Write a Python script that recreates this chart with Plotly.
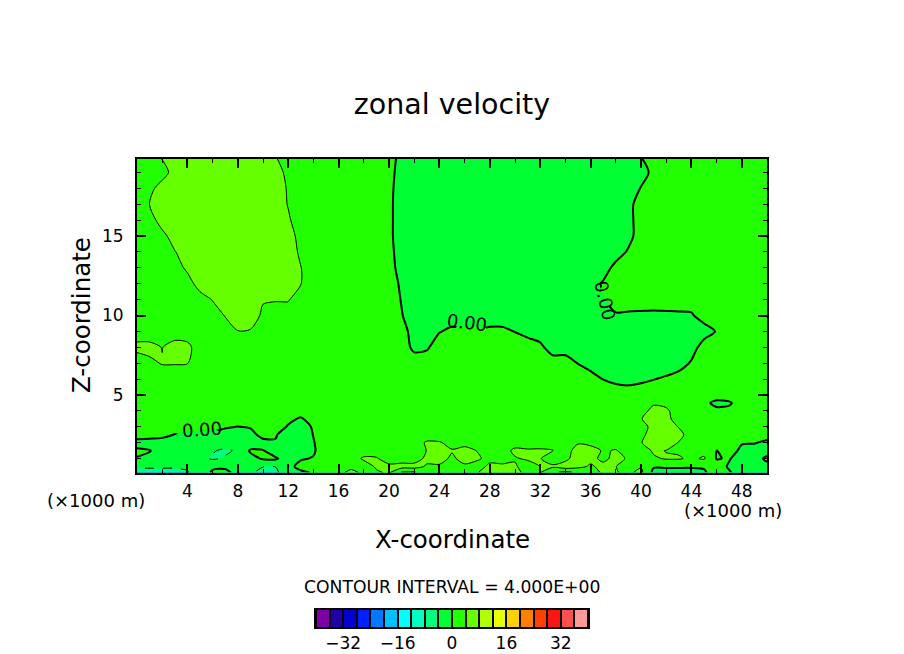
import plotly.graph_objects as go

x_km = list(range(0, 51))
z_km = [0.125, 0.5, 1, 1.5, 2, 2.5, 3, 3.5, 4, 4.5, 5, 6, 7, 8, 9, 10,
        11, 12, 13, 14, 15, 16, 17, 18, 19, 19.875]

# zonal velocity, bottom row first (each row: x = 0..50)
u = [
    [-4.5, -4.5, -4.5, -4.5, -4.2, -2, .5, .8, -1, -3.5,
     -5, -5, -1, -.6, .3, 2, 2, 6, 2.5, 3.5,
     4.5, -.2, -.2, 3, 3, 2.5, 2, 3.8, 6, 6,
     6, 2, 4.1, .5, -.5, .5, 2.5, 4.5, 4.2, 3.3,
     5, -1, -1, -1, -1, -.5, 2, .4, -2, -2, -2],
    [-3.8, -3.8, -3.8, -3.8, -3.6, -2, -.6, -.6, -2, -2,
     -3.9, -3.9, -1, 1, 2, 2, 2, 2, 2, 4.5,
     5, 5.5, 5.5, 3.5, 3.6, 3.5, 3.5, 2.5, 4.8, 5,
     4.5, 2, 4.1, 4.6, 6, 5, 3.5, 5, 4.1, 2,
     3.7, .3, .3, .3, .3, .4, 2, -.5, -2, -2, -1.5],
    [-.2, -1, -2, -2, -2, -3, -4.4, -3.6, -2, -1,
     .3, .5, -2, -.3, .2, 2, 2, 2, 4.6, 4.4,
     2, 2, 2, 5, 5, 3.5, 5, 4.5, 3, 2,
     3.6, 4.6, 4.2, 2, 3, 6, 5, 3.2, 5, 3.6,
     2, 3.5, 4.3, 4.3, 3.4, 4.4, -.2, .3, -2, -2, 1],
    [.7, .2, -2, -2, -2, -2, -3.7, -4.6, -3.5, .4,
     .2, -2, -2, -2, -.4, 2, 2, 2, 2, 2,
     2, 2, 2, 4.1, 6, 4.2, 5, 3.9, 2, 2,
     5, 4.5, 4.6, 4.2, 2, 6, 6, 3.5, 4.3, 2,
     2, 4.5, 3.9, 3.6, 2, 3, -.1, 2, -1, -2, -2],
    [-1.6, -2, -2, -2, -2, -2, -2, -2, -2, -2,
     -2, -.3, -2, -2, -.2, 2, 2, 2, 2, 2,
     2, 2, 2, 4.5, 4.3, 3, 3, 2, 2, 2,
     2, 2, 2, 2, 2, 3.6, 2.7, 2, 2, 2,
     3.8, 6, 6, 3.8, 2, 2, 2, 2, .3, .3, -1.1],
    [2, 2, 1.3, -.2, -2, -2, -2, -2, -2, -2,
     2, .3, -2, -2, .1, 2, 2, 2, 2, 2,
     2, 2, 2, 2, 2, 2, 2, 2, 2, 2,
     2, 2, 2, 2, 2, 2, 2, 2, 2, 2,
     2.9, 6, 6, 5.3, 2, 2, 2, 2, 2, 2, 2],
    [2, 2, 2, 2, 3, 2, 1.3, .5, -.1, .5,
     2, 2, -.4, -2, .5, 2, 2, 2, 2, 2,
     2, 2, 2, 2, 2, 2, 2, 2, 2, 2,
     2, 2, 2, 2, 2, 2, 2, 2, 2, 2,
     2, 5.6, 6, 3.8, 2, 2, 2, 2, 2, 2, 2],
    [2, 2, 2, 2, 2, 2, 2, 2, 2, 2,
     2, 2, 1, -.5, 2, 2, 2, 2, 2, 2,
     2, 2, 2, 2, 2, 2, 2, 2, 2, 2,
     2, 2, 2, 2, 2, 2, 2, 2, 2, 2,
     3.8, 6, 5.3, 2, 2, 2, 2, 2, 2, 2, 2],
    [2, 2, 2, 2, 2, 2, 2, 2, 2, 2,
     2, 2, 2, 2, 2, 2, 2, 2, 2, 2,
     2, 2, 2, 2, 2, 2, 2, 2, 2, 2,
     2, 2, 2, 2, 2, 2, 2, 2, 2, 2,
     2, 5.6, 4.7, 2, 2, 2, 1, 1, 2, 2, 2],
    [2, 2, 2, 2, 2, 2, 2, 2, 2, 2,
     2, 2, 2, 2, 2, 2, 2, 2, 2, 2,
     2, 2, 2, 2, 2, 2, 2, 2, 2, 2,
     2, 2, 2, 2, 2, 2, 2, 2, 2, 2,
     2, 3.3, 3, 2, 2, 1, -1, -.5, 2, 2, 2],
    [2, 2, 2, 2, 2, 2, 2, 2, 2, 2,
     2, 2, 2, 2, 2, 2, 2, 2, 2, 2,
     2, 2, 2, 2, 2, 2, 2, 2, 2, 2,
     2, 2, 2, 2, 2, 2, 2, 2, 2, 2,
     2, 2, 2, 2, 2, 2, 2, 2, 2, 2, 2],
    [2, 2, 2, 2, 2, 2, 2, 2, 2, 2,
     2, 2, 2, 2, 2, 2, 2, 2, 2, 2,
     2, 2, 2, 2, 2, 2, 2, 2, 2, 2,
     2, 2, 2, 2, 2, 2, 2, -.1, -.9, -1.3,
     -.7, -.1, .5, 2, 2, 2, 2, 2, 2, 2, 2],
    [2, 3.3, 4.2, 4.2, 4.1, 2, 2, 2, 2, 2,
     2, 2, 2, 2, 2, 2, 2, 2, 2, 2,
     2, 2, 2, 2, 2, 2, 2, 2, 2, 2,
     2, 2, 2, 2, 2, -.1, -2, -2, -2, -2,
     -2, -2, -2, -2, .5, 2, 2, 2, 2, 2, 2],
    [5, 5, 3.9, 5.5, 5, 2, 2, 2, 2, 2,
     2, 2, 2, 2, 2, 2, 2, 2, 2, 2,
     2, 2, -.9, -.5, 2, 2, 2, 2, 2, 2,
     2, 2, .9, -2, -2, -2, -2, -2, -2, -2,
     -2, -2, -2, -2, -2, 2, 2, 2, 2, 2, 2],
    [2, 2, 2, 2, 2, 2, 2, 2, 3.9, 3.7,
     2, 2, 2, 2, 2, 2, 2, 2, 2, 2,
     2, 2, -2, -2, -.2, .8, .8, .8, .8, .8,
     -.1, -1.3, -2, -2, -2, -2, -2, -2, -2, -2,
     -2, -2, -2, -2, -2, -2, .3, 2, 2, 2, 2],
    [2, 2, 2, 2, 2, 2, 2, 4.2, 6, 6,
     3.3, 2, 2, 2, 2, 2, 2, 2, 2, 2,
     2, .2, -2, -2, -2, -2, -2, -2, -2, -2,
     -2, -2, -2, -2, -2, -2, -2, -2, -.5, -.7,
     -.8, -.9, -.8, -.7, -.5, 2, 2, 2, 2, 2, 2],
    [2, 2, 2, 2, 2, 2, 4.2, 6, 6, 6,
     4.3, 4.3, 4.3, 2, 2, 2, 2, 2, 2, 2,
     2, -.2, -2, -2, -2, -2, -2, -2, -2, -2,
     -2, -2, -2, -2, -2, -2, -2, -.5, 2, 2,
     2, 2, 2, 2, 2, 2, 2, 2, 2, 2, 2],
    [2, 2, 2, 2, 2, 6, 6, 6, 6, 6,
     6, 6, 6, 4.1, 2, 2, 2, 2, 2, 2,
     2, -.7, -2, -2, -2, -2, -2, -2, -2, -2,
     -2, -2, -2, -2, -2, -2, -2, .5, 2, 2,
     2, 2, 2, 2, 2, 2, 2, 2, 2, 2, 2],
    [2, 2, 2, 2, 4.9, 6, 6, 6, 6, 6,
     6, 6, 6, 4.1, 2, 2, 2, 2, 2, 2,
     2, -2, -2, -2, -2, -2, -2, -2, -2, -2,
     -2, -2, -2, -2, -2, -2, -2, -2, 1.3, 2,
     2, 2, 2, 2, 2, 2, 2, 2, 2, 2, 2],
    [2, 2, 2, 3.8, 6, 6, 6, 6, 6, 6,
     6, 6, 6, 3.3, 2, 2, 2, 2, 2, 2,
     1.3, -2, -2, -2, -2, -2, -2, -2, -2, -2,
     -2, -2, -2, -2, -2, -2, -2, -2, -2, .5,
     2, 2, 2, 2, 2, 2, 2, 2, 2, 2, 2],
    [2, 2, 2.7, 6, 6, 6, 6, 6, 6, 6,
     6, 6, 6, 2.4, 2, 2, 2, 2, 2, 2,
     .9, -2, -2, -2, -2, -2, -2, -2, -2, -2,
     -2, -2, -2, -2, -2, -2, -2, -2, -2, -1.3,
     2, 2, 2, 2, 2, 2, 2, 2, 2, 2, 2],
    [2, 2, 6, 6, 6, 6, 6, 6, 6, 6,
     6, 6, 4.5, 2, 2, 2, 2, 2, 2, 2,
     .9, -2, -2, -2, -2, -2, -2, -2, -2, -2,
     -2, -2, -2, -2, -2, -2, -2, -2, -2, -1.3,
     2, 2, 2, 2, 2, 2, 2, 2, 2, 2, 2],
    [2, 4.1, 6, 6, 6, 6, 6, 6, 6, 6,
     6, 6, 3.8, 2, 2, 2, 2, 2, 2, 2,
     .9, -2, -2, -2, -2, -2, -2, -2, -2, -2,
     -2, -2, -2, -2, -2, -2, -2, -2, -2, -1.3,
     2, 2, 2, 2, 2, 2, 2, 2, 2, 2, 2],
    [2, 2.7, 6, 6, 6, 6, 6, 6, 6, 6,
     6, 6, 3.6, 2, 2, 2, 2, 2, 2, 2,
     1.1, -2, -2, -2, -2, -2, -2, -2, -2, -2,
     -2, -2, -2, -2, -2, -2, -2, -2, -2, -2,
     .2, 2, 2, 2, 2, 2, 2, 2, 2, 2, 2],
    [2, 2, 2, 6, 6, 6, 6, 6, 6, 6,
     6, 6, 2.7, 2, 2, 2, 2, 2, 2, 2,
     1.6, -2, -2, -2, -2, -2, -2, -2, -2, -2,
     -2, -2, -2, -2, -2, -2, -2, -2, -2, -2,
     -2, 1.3, 2, 2, 2, 2, 2, 2, 2, 2, 2],
    [2, 2, 4.2, 6, 6, 6, 6, 6, 6, 6,
     6, 4.3, 2, 2, 2, 2, 2, 2, 2, 2,
     2, -1.6, -2, -2, -2, -2, -2, -2, -2, -2,
     -2, -2, -2, -2, -2, -2, -2, -2, -2, -2,
     -.2, 2, 2, 2, 2, 2, 2, 2, 2, 2, 2],
]

band_colors = ["#8000a8", "#2000a8", "#0000d0", "#0020ff", "#0078ff",
               "#00c0ff", "#00ffff", "#00ffc0", "#00ff80", "#00ff33",
               "#22ff00", "#66ff00", "#b0ff00", "#e8ff00", "#ffd000",
               "#ff8000", "#ff4000", "#ff1414", "#ff5050", "#ff9999"]
band_mid = [-38, -34, -30, -26, -22, -18, -14, -10, -6, -2,
            2, 6, 10, 14, 18, 22, 26, 30, 34, 38]

x_ticks = [4, 8, 12, 16, 20, 24, 28, 32, 36, 40, 44, 48]
z_ticks = [5, 10, 15]
legend_ticks = [-32, -16, 0, 16, 32]
legend_labels = ["\u221232", "\u221216", "0", "16", "32"]

FONT = "DejaVu Sans"

# the page body has a margin, so lay out in a 896x646 figure
W, H = 896, 646


def fx(px):
    return (px - 8) / W


def fy(py):
    return 1 - (py - 6) / H


# stepped scale so each 4-unit band has one flat colour
scale = []
n = len(band_colors)
for i, c in enumerate(band_colors):
    scale.append([i / n, c])
    scale.append([(i + 1) / n, c])

smooth = 0.8

# the zero line stops where a label sits: blank those nodes for that trace only
u_zero_line = [row[:] for row in u]
for j, i in [(5, 4), (5, 5), (5, 6), (14, 26), (14, 27), (16, 37)]:
    u_zero_line[j][i] = None

fig = go.Figure()
fig.add_trace(go.Contour(
    x=x_km, y=z_km, z=u, zmin=-40, zmax=40, colorscale=scale, showscale=False,
    contours=dict(coloring="fill", start=-40, end=40, size=4),
    line=dict(width=0, smoothing=smooth), hoverinfo="skip"))
# thin positive, dashed negative, thick zero line
for grid, start, end, width, dash in [(u, 4, 36, 1, "solid"), (u, -36, -4, 1, "dash"),
                                      (u_zero_line, 0, 0, 2, "solid")]:
    fig.add_trace(go.Contour(
        x=x_km, y=z_km, z=grid, showscale=False,
        contours=dict(coloring="none", start=start, end=end, size=4),
        line=dict(color="black", width=width, dash=dash, smoothing=smooth),
        hoverinfo="skip"))

fig.add_trace(go.Heatmap(
    x=band_mid, y=[0, 1], z=[band_mid, band_mid], xaxis="x2", yaxis="y2",
    zmin=-40, zmax=40, colorscale=scale, showscale=False, xgap=2, hoverinfo="skip"))

axis_font = dict(family=FONT, size=17, color="black")
fig.update_layout(
    width=W, height=H, autosize=False,
    margin=dict(l=0, r=0, t=0, b=0),
    paper_bgcolor="white", plot_bgcolor="black",
    showlegend=False,
    title=dict(text="zonal velocity", x=fx(452), y=fy(102),
               xanchor="center", yanchor="middle",
               font=dict(family=FONT, size=28.5, color="black")),
    xaxis=dict(domain=[fx(137), fx(767)], range=[0, 50], tickvals=x_ticks,
               ticks="inside", ticklen=9, tickwidth=2, tickcolor="black",
               minor=dict(dtick=2, tick0=0, ticks="inside", ticklen=4, tickwidth=1, tickcolor="black"),
               showline=True, linecolor="black", linewidth=2, mirror="ticks",
               showgrid=False, zeroline=False, tickfont=axis_font, ticklabelstandoff=2),
    yaxis=dict(domain=[fy(470.5), fy(156.5)], range=[0.125, 19.875], tickvals=z_ticks,
               ticks="inside", ticklen=9, tickwidth=2, tickcolor="black",
               minor=dict(dtick=1, tick0=0, ticks="inside", ticklen=4, tickwidth=1, tickcolor="black"),
               showline=True, linecolor="black", linewidth=2, mirror="ticks",
               showgrid=False, zeroline=False, tickfont=axis_font, ticklabelstandoff=8),
    xaxis2=dict(domain=[fx(316), fx(588)], range=[-40, 40], anchor="y2",
                tickvals=legend_ticks, ticktext=legend_labels, ticks="",
                showline=True, linecolor="black", linewidth=2, mirror=True,
                showgrid=False, zeroline=False, tickfont=axis_font, ticklabelstandoff=0),
    yaxis2=dict(domain=[fy(625), fy(608)], anchor="x2", range=[-0.5, 1.5],
                showticklabels=False, ticks="", showgrid=False, zeroline=False,
                showline=True, linecolor="black", linewidth=2, mirror=True),
)


def paper_text(text, px, py, size, angle=0):
    fig.add_annotation(text=text, x=fx(px), y=fy(py), xref="paper", yref="paper",
                       showarrow=False, xanchor="center", yanchor="middle", textangle=angle,
                       font=dict(family=FONT, size=size, color="black"))


paper_text("X-coordinate", 452, 537, 24.5)
paper_text("Z-coordinate", 82, 313, 24.5, -90)
paper_text("(\u00d71000 m)", 96, 498, 18)
paper_text("(\u00d71000 m)", 733, 508, 18)
paper_text("CONTOUR INTERVAL = 4.000E+00", 452, 585, 17.2)

for lx, lz, angle in [(5.14, 2.8, -4), (26.2, 9.56, 7), (37.15, 10.94, 77)]:
    fig.add_annotation(text="0.00", x=lx, y=lz, xref="x", yref="y", showarrow=False,
                       textangle=angle, font=dict(family=FONT, size=18, color="black"))

fig.write_html("out.html")
